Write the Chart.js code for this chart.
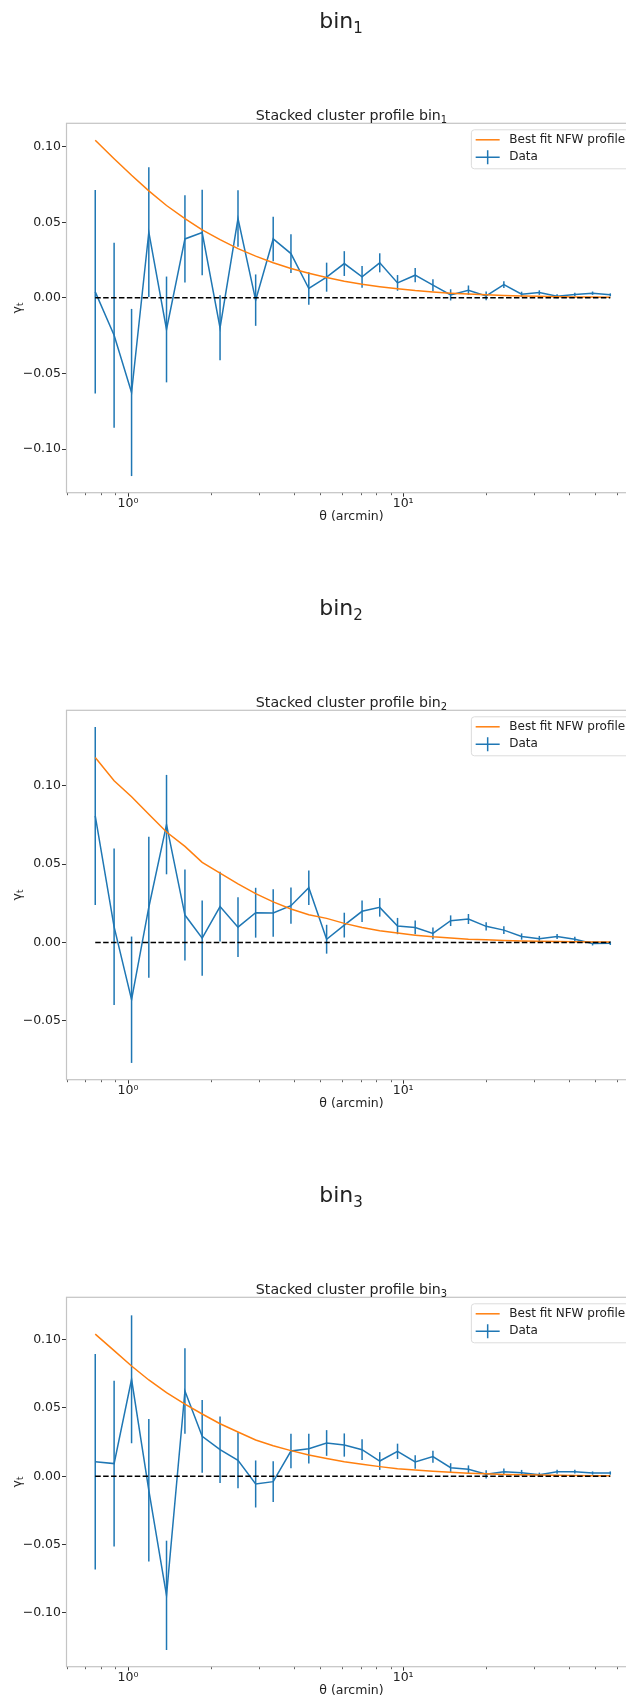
<!DOCTYPE html>
<html>
<head>
<meta charset="utf-8">
<script src="https://cdn.jsdelivr.net/npm/chart.js@4.4.1/dist/chart.umd.min.js"></script>
<style>
    body { margin: 0; background: #fff; overflow: hidden; width: 626px; height: 1700px; position: relative; font-family: "DejaVu Sans", sans-serif; color: #222; }
    .panel { position: absolute; left: 0; width: 702px; height: 587px; }
    .panel canvas { position: absolute; left: 0; top: 0; }
    .suptitle { position: absolute; left: 0; top: 10px; width: 682px; text-align: center; font-size: 22px; line-height: 22px; }
    .suptitle sub { font-size: 15px; }
</style>
</head>
<body>
<div class="panel" style="top:0px"><canvas id="chart1" width="702" height="587"></canvas><div class="suptitle">bin<sub>1</sub></div></div>
<div class="panel" style="top:587px"><canvas id="chart2" width="702" height="587"></canvas><div class="suptitle">bin<sub>2</sub></div></div>
<div class="panel" style="top:1174px"><canvas id="chart3" width="702" height="587"></canvas><div class="suptitle">bin<sub>3</sub></div></div>
<script>
// angular bins (arcmin)
const thetaArcmin = [0.76, 0.89, 1.03, 1.19, 1.38, 1.61, 1.86, 2.16, 2.51, 2.91, 3.37, 3.91, 4.54, 5.27, 6.11,
    7.09, 8.22, 9.54, 11.06, 12.83, 14.88, 17.27, 20.03, 23.23, 26.95, 31.26, 36.27, 42.07, 48.80, 56.61];

// bin 1
const gammaBin1 = [0.004, -0.0247, -0.0626, 0.0435, -0.0209, 0.039, 0.0432, -0.0198, 0.0525, -0.0015, 0.039, 0.0293,
    0.0062, 0.0137, 0.0227, 0.0139, 0.0232, 0.0099, 0.015, 0.0084, 0.002, 0.0051, 0.0013, 0.0088, 0.0024, 0.0035,
    0.0011, 0.0022, 0.0031, 0.002];
const errorBin1 = [0.0673, 0.0612, 0.0553, 0.043, 0.035, 0.0289, 0.0283, 0.0215, 0.0187, 0.017, 0.0147, 0.0128,
    0.0107, 0.0096, 0.0082, 0.0072, 0.0063, 0.0052, 0.0047, 0.004, 0.0037, 0.0031, 0.0029, 0.0022, 0.0017, 0.0015,
    0.0013, 0.0012, 0.0011, 0.001];
const nfwBin1 = [0.1043, 0.092, 0.0811, 0.0708, 0.0611, 0.0525, 0.045, 0.0385, 0.0326, 0.0276, 0.0232, 0.0194,
    0.0163, 0.0135, 0.011, 0.009, 0.0074, 0.006, 0.0048, 0.0039, 0.0031, 0.0025, 0.002, 0.0016, 0.0012, 0.001,
    0.0008, 0.0006, 0.0005, 0.0004];

// bin 2
const gammaBin2 = [0.0807, 0.01, -0.0365, 0.0225, 0.0752, 0.0175, 0.0028, 0.0229, 0.0098, 0.019, 0.0188, 0.0235,
    0.035, 0.0021, 0.0111, 0.0199, 0.0224, 0.0105, 0.0096, 0.0058, 0.0139, 0.015, 0.0103, 0.0079, 0.0038, 0.0024,
    0.0038, 0.0021, -0.0006, -0.0004];
const errorBin2 = [0.0567, 0.0499, 0.0403, 0.0449, 0.0317, 0.029, 0.024, 0.0223, 0.019, 0.0159, 0.0151, 0.0116,
    0.011, 0.0092, 0.0079, 0.0069, 0.0059, 0.0052, 0.0044, 0.0038, 0.0034, 0.0032, 0.0026, 0.0024, 0.002, 0.0018,
    0.0016, 0.0015, 0.0013, 0.0012];
const nfwBin2 = [0.118, 0.1032, 0.093, 0.0818, 0.0705, 0.0613, 0.0511, 0.0442, 0.0374, 0.0312, 0.0259, 0.0214,
    0.0177, 0.0154, 0.0122, 0.0096, 0.0075, 0.006, 0.0047, 0.0036, 0.0028, 0.0021, 0.0017, 0.0013, 0.001, 0.0008,
    0.0006, 0.0005, 0.0004, 0.0003];

// bin 3
const gammaBin3 = [0.0107, 0.0093, 0.071, -0.0102, -0.0871, 0.0624, 0.0293, 0.0195, 0.0117, -0.0056, -0.0039, 0.0185,
    0.0202, 0.0244, 0.0229, 0.0195, 0.0112, 0.0183, 0.0105, 0.0144, 0.0063, 0.0051, 0.0015, 0.0034, 0.0027, 0.0012,
    0.0034, 0.0034, 0.0024, 0.0024];
const errorBin3 = [0.0788, 0.0607, 0.0468, 0.0522, 0.04, 0.0313, 0.0266, 0.0243, 0.0205, 0.0172, 0.0149, 0.0126,
    0.0109, 0.0094, 0.0085, 0.0076, 0.0065, 0.0056, 0.005, 0.0044, 0.0033, 0.0029, 0.003, 0.0024, 0.002, 0.0015,
    0.0015, 0.0014, 0.0012, 0.0012];
const nfwBin3 = [0.1041, 0.092, 0.0807, 0.0705, 0.0612, 0.0529, 0.0456, 0.0385, 0.0324, 0.0266, 0.0224, 0.0188,
    0.0156, 0.013, 0.0107, 0.0088, 0.0071, 0.0056, 0.0046, 0.0037, 0.0029, 0.0023, 0.0018, 0.0014, 0.0011, 0.0009,
    0.0007, 0.0006, 0.0005, 0.0004];

const legendLabels = ["Best fit NFW profile", "Data"];

const BLUE = "#1f77b4";
const ORANGE = "#ff7f0e";
const FONT = '"DejaVu Sans", sans-serif';

Chart.defaults.font.family = FONT;
Chart.defaults.font.size = 12;
Chart.defaults.color = "#222";

function isDecade(v) {
    const l = Math.log10(v);
    return Math.abs(l - Math.round(l)) < 1e-9;
}

// text with a lowered, smaller subscript part
function drawSubText(ctx, main, sub, size, x, y) {
    ctx.font = size + "px " + FONT;
    const w1 = ctx.measureText(main).width;
    ctx.font = size * 0.7 + "px " + FONT;
    const w2 = ctx.measureText(sub).width;
    const x0 = x - (w1 + w2) / 2;
    ctx.textAlign = "left";
    ctx.textBaseline = "alphabetic";
    ctx.font = size + "px " + FONT;
    ctx.fillText(main, x0, y);
    ctx.font = size * 0.7 + "px " + FONT;
    ctx.fillText(sub, x0 + w1, y + size * 0.2);
}

// vertical error bars, drawn under the lines
const errorBarPlugin = {
    id: "errorBars",
    beforeDatasetsDraw(chart) {
        const { ctx, scales: { x, y } } = chart;
        chart.data.datasets.forEach((ds) => {
            if (!ds.errors) return;
            ctx.save();
            ctx.strokeStyle = ds.borderColor;
            ctx.lineWidth = 1.5;
            ds.data.forEach((p, i) => {
                const px = x.getPixelForValue(p.x);
                ctx.beginPath();
                ctx.moveTo(px, y.getPixelForValue(p.y - ds.errors[i]));
                ctx.lineTo(px, y.getPixelForValue(p.y + ds.errors[i]));
                ctx.stroke();
            });
            ctx.restore();
        });
    },
};

// axes frame, titles, minor log ticks and the matplotlib-like legend
const framePlugin = {
    id: "frame",
    afterDraw(chart, args, opts) {
        const { ctx, chartArea: a, scales: { x } } = chart;
        ctx.save();
        // minor ticks
        ctx.strokeStyle = "#333";
        ctx.lineWidth = 0.8;
        x.ticks.forEach((t) => {
            const v = t.value;
            const sig = v / Math.pow(10, Math.floor(Math.log10(v) + 1e-9));
            if (isDecade(v) || Math.abs(sig - Math.round(sig)) > 1e-6) return;
            const px = Math.round(x.getPixelForValue(v)) + 0.5;
            ctx.beginPath();
            ctx.moveTo(px, a.bottom);
            ctx.lineTo(px, a.bottom + 2.5);
            ctx.stroke();
        });
        // spines
        ctx.strokeStyle = "#c4c4c4";
        ctx.lineWidth = 1.2;
        ctx.strokeRect(a.left - 0.5, a.top, a.right - a.left, a.bottom - a.top);

        // axes title and y label
        ctx.fillStyle = "#222";
        drawSubText(ctx, "Stacked cluster profile bin", opts.sub, 14.2, (a.left + a.right) / 2, a.top - 3.5);
        ctx.save();
        ctx.translate(20.5, (a.top + a.bottom) / 2);
        ctx.rotate(-Math.PI / 2);
        drawSubText(ctx, "\u03b3", "t", 12.5, 0, 0);
        ctx.restore();

        // legend
        ctx.font = "12px " + FONT;
        const textW = Math.max(...legendLabels.map((l) => ctx.measureText(l).width));
        const pad = 4.8, handle = 24, gap = 9.6;
        const w = pad + handle + gap + textW + pad;
        const h = 39;
        const left = a.right - 6 - w;
        const top = a.top + 6;
        ctx.beginPath();
        if (ctx.roundRect) ctx.roundRect(left + 0.5, top + 0.5, w, h, 3);
        else ctx.rect(left + 0.5, top + 0.5, w, h);
        ctx.fillStyle = "rgba(255,255,255,0.8)";
        ctx.fill();
        ctx.strokeStyle = "#dcdcdc";
        ctx.lineWidth = 1;
        ctx.stroke();

        const rows = [top + 10.5, top + 28];
        const hx0 = left + pad, hx1 = hx0 + handle;
        ctx.lineWidth = 1.5;
        ctx.strokeStyle = ORANGE;
        ctx.beginPath();
        ctx.moveTo(hx0, rows[0]);
        ctx.lineTo(hx1, rows[0]);
        ctx.stroke();
        ctx.strokeStyle = BLUE;
        ctx.beginPath();
        ctx.moveTo(hx0, rows[1]);
        ctx.lineTo(hx1, rows[1]);
        ctx.moveTo((hx0 + hx1) / 2, rows[1] - 7);
        ctx.lineTo((hx0 + hx1) / 2, rows[1] + 7);
        ctx.stroke();

        ctx.fillStyle = "#222";
        ctx.textBaseline = "middle";
        ctx.textAlign = "left";
        legendLabels.forEach((l, i) => ctx.fillText(l, hx1 + gap, rows[i]));
        ctx.restore();
    },
};

function makePanel(id, sub, gamma, errors, nfw, yMin, yMax) {
    const ctx = document.getElementById(id);
    return new Chart(ctx, {
        type: "line",
        data: {
            datasets: [
                {
                    label: "zero",
                    data: thetaArcmin.map((t) => ({ x: t, y: 0 })),
                    borderColor: "#000",
                    borderWidth: 1.5,
                    borderDash: [5.5, 2.4],
                    pointRadius: 0,
                },
                {
                    label: legendLabels[0],
                    data: thetaArcmin.map((t, i) => ({ x: t, y: nfw[i] })),
                    borderColor: ORANGE,
                    borderWidth: 1.5,
                    pointRadius: 0,
                },
                {
                    label: legendLabels[1],
                    data: thetaArcmin.map((t, i) => ({ x: t, y: gamma[i] })),
                    errors: errors,
                    borderColor: BLUE,
                    borderWidth: 1.5,
                    pointRadius: 0,
                },
            ],
        },
        options: {
            responsive: false,
            animation: false,
            events: [],
            layout: { padding: { top: 123.3, left: 9, right: 66, bottom: 62.8 } },
            plugins: {
                legend: { display: false },
                tooltip: { enabled: false },
                frame: { sub: sub },
            },
            scales: {
                x: {
                    type: "logarithmic",
                    min: 0.616,
                    max: 70.2,
                    afterFit: (s) => { s.height = 31.5; },
                    border: { display: false },
                    grid: {
                        drawOnChartArea: false,
                        tickLength: 4,
                        tickColor: (c) => (c.tick && isDecade(c.tick.value) ? "#333" : "rgba(0,0,0,0)"),
                    },
                    ticks: {
                        autoSkip: false,
                        maxRotation: 0,
                        minRotation: 0,
                        padding: 0,
                        font: { size: 12.5 },
                        callback: (v) => {
                            if (Math.abs(v - 1) < 1e-9) return "10\u2070";
                            if (Math.abs(v - 10) < 1e-9) return "10\u00b9";
                            return "";
                        },
                    },
                    title: { display: true, text: "\u03b8 (arcmin)", padding: 0, font: { size: 12.5 } },
                },
                y: {
                    min: yMin,
                    max: yMax,
                    afterFit: (s) => { s.width = 58; },
                    border: { display: false },
                    grid: { drawOnChartArea: false, tickLength: 5, tickColor: "#333" },
                    ticks: {
                        stepSize: 0.05,
                        includeBounds: false,
                        padding: 1,
                        font: { size: 12.5 },
                        callback: (v) => (v < -1e-9 ? "\u2212" : "") + Math.abs(v).toFixed(2),
                    },
                },
            },
        },
        plugins: [errorBarPlugin, framePlugin],
    });
}

document.addEventListener("DOMContentLoaded", function () {
    makePanel("chart1", "1", gammaBin1, errorBin1, nfwBin1, -0.1289, 0.1155);
    makePanel("chart2", "2", gammaBin2, errorBin2, nfwBin2, -0.0875, 0.1481);
    makePanel("chart3", "3", gammaBin3, errorBin3, nfwBin3, -0.1393, 0.131);
});
</script>
</body>
</html>
